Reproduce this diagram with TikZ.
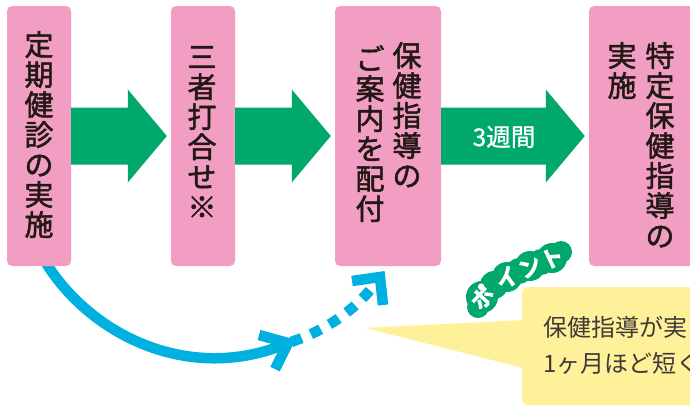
\documentclass[tikz,border=0pt]{standalone}
\usepackage{fontspec}
\setmainfont{Noto Sans CJK JP}
\newfontfamily\boxfont[FakeBold=1.8]{Noto Sans CJK JP}
\newfontfamily\lblfont[FakeBold=0.8]{Noto Sans CJK JP}
\newfontfamily\pointfont[FakeBold=8]{Noto Sans CJK JP}
\usetikzlibrary{calc}
\definecolor{boxpink}{HTML}{F19EC2}
\definecolor{arrgreen}{HTML}{00A86B}
\definecolor{arrblue}{HTML}{00B0E0}
\definecolor{callyellow}{HTML}{FFF09A}
\definecolor{inkdark}{HTML}{231815}
\definecolor{inkgray}{HTML}{3E3A39}
\newcommand\grarrow[2]{%
  \fill[arrgreen] ($(#1.east)+(0,-28.5)$) -- ($(#2.west)+(-43,-28.5)$)
    -- ($(#2.west)+(-43,-46.5)$) -- ($(#2.west)+(-4,0)$)
    -- ($(#2.west)+(-43,46.5)$) -- ($(#2.west)+(-43,28.5)$)
    -- ($(#1.east)+(0,28.5)$) -- cycle;}
\begin{document}
\begin{tikzpicture}[x=1pt,y=-1pt,
  stepbox/.style={fill=boxpink, draw=none, rounded corners=5pt, inner sep=0pt, minimum height=260pt},
  vtext/.style={font=\boxfont\fontsize{29}{30}\selectfont, text=inkdark, align=center, inner sep=0pt, anchor=north},
  blueline/.style={draw=arrblue, line width=10.5pt},
  chev/.style={blueline, line join=miter, line cap=butt},
  calltext/.style={font=\fontsize{24}{26}\selectfont, text=inkgray, inner sep=0pt, anchor=west},
  pointtxt/.style={font=\pointfont\fontsize{22}{22}\selectfont, text=white, inner sep=0pt},
  lbl/.style={font=\lblfont\fontsize{24.5}{25}\selectfont, text=white, inner sep=0pt}]
\useasboundingbox (0,0) rectangle (690,408);
\clip (0,0) rectangle (690,408);
\fill[white] (0,0) rectangle (690,408);

% blue curved arrow (drawn first so the boxes cover its start)
\coordinate (c0) at (43,258);
\coordinate (e1) at (288,343);
\coordinate (e2) at (380,277);
\draw[blueline] (c0) .. controls (88,335) and (190,385) .. (e1);
\draw[blueline, dash pattern=on 11pt off 10pt, dash phase=17.5pt] (e1) .. controls (322,332) and (356,312) .. (e2);
\draw[chev] ($(e1)+(-29,-8)$) -- (e1) -- ($(e1)+(-13,26)$);
\draw[chev] ($(e2)+(-28,4)$) -- (e2) -- ($(e2)+(3,28)$);

% boxes
\node[stepbox, minimum width=64pt] (b1) at (39,136) {};
\node[stepbox, minimum width=64pt] (b2) at (203,136) {};
\node[stepbox, minimum width=106pt] (b3) at (388,136) {};
\node[stepbox, minimum width=111pt] (b4) at (644.5,136) {};

% box texts
\node[vtext] (t1) at (39,31) {定\\期\\健\\診\\の\\実\\施};
\node[vtext] (t2) at (202,46) {三\\者\\打\\合\\せ\\※};
\node[vtext] (t3a) at (407,42) {保\\健\\指\\導\\の};
\node[vtext] (t3b) at (370,45) {ご\\案\\内\\を\\配\\付};
\node[vtext] (t4a) at (660,42) {特\\定\\保\\健\\指\\導\\の};
\node[vtext] (t4b) at (622,42) {実\\施};

% green arrows
\grarrow{b1}{b2}
\grarrow{b2}{b3}
\grarrow{b3}{b4}
\node[lbl] (w3) at (504,137) {3週間};

% callout
\fill[callyellow] (365,328) -- (524,320) -- (524,368) -- cycle;
\fill[callyellow, rounded corners=6pt] (522,287) rectangle (720,405);
\node[calltext] (l1) at (543,327) {保健指導が実};
\node[calltext] (l2) at (543,363) {1ヶ月ほど短く};

% "point" label: green blob, then white letters
\fill[arrgreen] (482,297) circle (16) (494,285) circle (14) (507,277) circle (15)
  (519,271) circle (13) (530,266) circle (15) (541,262) circle (13) (552,258) circle (15)
  (478,307) circle (11) (561,252) circle (11);
\foreach \ch/\px/\py/\rt [count=\k] in {ポ/482/297/48, イ/507/278/35, ン/530/267/28, ト/552/258/25} {
  \node[pointtxt, rotate=\rt] (pt\k) at (\px,\py) {\ch};
}
\end{tikzpicture}
\end{document}
